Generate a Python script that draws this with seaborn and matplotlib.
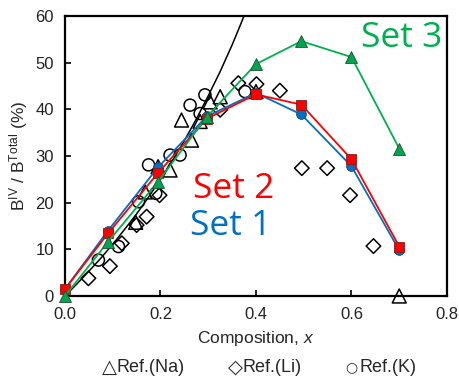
import numpy as np
import pandas as pd
import seaborn as sns
import matplotlib.pyplot as plt

# --- data ---
comp = [0.0, 0.09, 0.195, 0.297, 0.4, 0.495, 0.6, 0.7]
set1 = [1.5, 14.0, 27.6, 38.5, 43.5, 38.9, 27.8, 9.8]
set2 = [1.5, 13.4, 26.4, 38.0, 43.2, 41.0, 29.3, 10.6]
set3 = [0.0, 11.6, 24.5, 38.4, 49.7, 54.6, 51.2, 31.6]

# black reference curve
curve_x = [0.0, 0.025, 0.05, 0.075, 0.1, 0.125, 0.15, 0.175, 0.2, 0.225, 0.25,
           0.275, 0.3, 0.325, 0.35, 0.365, 0.38]
curve_y = [0.0, 2.6, 5.3, 8.1, 11.1, 14.3, 17.6, 21.2, 25.0, 29.0, 33.3,
           37.9, 42.9, 48.1, 53.8, 57.5, 61.3]

na_x = [0.148, 0.168, 0.195, 0.22, 0.244, 0.265, 0.283, 0.304, 0.325, 0.4, 0.7]
na_y = [15.8, 22.3, 27.7, 27.0, 37.7, 33.4, 37.4, 41.6, 42.7, 43.8, 0.0]

li_x = [0.049, 0.094, 0.119, 0.150, 0.171, 0.198, 0.325, 0.363, 0.401, 0.45,
        0.496, 0.549, 0.597, 0.646]
li_y = [3.8, 6.4, 11.3, 15.2, 17.0, 21.6, 39.9, 45.6, 45.4, 44.0,
        27.4, 27.4, 21.6, 10.7]

k_x = [0.07, 0.112, 0.154, 0.175, 0.19, 0.22, 0.241, 0.262, 0.283, 0.293, 0.377]
k_y = [7.7, 10.6, 20.2, 28.1, 22.0, 30.2, 30.2, 40.9, 39.1, 43.1, 43.8]

BLUE, RED, GREEN = "#0070C0", "#FF0000", "#00B050"

sns.set_style("ticks")
plt.rcParams['font.family'] = ['Liberation Sans', 'DejaVu Sans']
plt.rcParams['mathtext.fontset'] = 'custom'
plt.rcParams['mathtext.rm'] = 'Liberation Sans'
plt.rcParams['mathtext.it'] = 'Liberation Sans:italic'

fig = plt.figure(figsize=(4.6, 3.78), dpi=100)
ax = fig.add_axes([0.1413, 0.2169, 0.8304, 0.7408])

# open reference markers
sns.scatterplot(x=li_x, y=li_y, marker='D', s=55, facecolor='none',
                edgecolor='black', linewidth=1.1, ax=ax, zorder=2, clip_on=False)
sns.scatterplot(x=k_x, y=k_y, marker='o', s=75, facecolor='none',
                edgecolor='black', linewidth=1.1, ax=ax, zorder=2, clip_on=False)
sns.scatterplot(x=na_x, y=na_y, marker='^', s=100, facecolor='none',
                edgecolor='black', linewidth=1.1, ax=ax, zorder=2, clip_on=False)

# reference curve
sns.lineplot(x=curve_x, y=curve_y, color='black', linewidth=1.1, sort=False,
             ax=ax, zorder=3)

# measured sets
sns.lineplot(x=comp, y=set1, color=BLUE, linewidth=1.3, marker='o', markersize=7,
             markerfacecolor=BLUE, markeredgecolor='#1f3f6f', markeredgewidth=0.6,
             sort=False, ax=ax, zorder=4, clip_on=False)
sns.lineplot(x=comp, y=set2, color=RED, linewidth=1.3, marker='s', markersize=7,
             markerfacecolor=RED, markeredgecolor='#7f1f1f', markeredgewidth=0.6,
             sort=False, ax=ax, zorder=5, clip_on=False)
sns.lineplot(x=comp, y=set3, color=GREEN, linewidth=1.3, marker='^', markersize=9,
             markerfacecolor='#00A550', markeredgecolor='#1f4f2f', markeredgewidth=0.6,
             sort=False, ax=ax, zorder=6, clip_on=False)

ax.set_xlim(0, 0.8)
ax.set_ylim(0, 60)
ax.set_xticks([0.0, 0.2, 0.4, 0.6, 0.8])
ax.set_xticklabels(['0.0', '0.2', '0.4', '0.6', '0.8'])
ax.set_yticks(range(0, 61, 10))
ax.tick_params(direction='in', length=4, width=1.2, labelsize=12, pad=8,
               colors='black', labelcolor='#222222')
for sp in ax.spines.values():
    sp.set_visible(True)
    sp.set_linewidth(1.6)
    sp.set_color('black')

ax.set_xlabel(r"Composition, $x$", fontsize=12.5, labelpad=5)
ax.set_ylabel(r"B$^{\mathrm{IV}}$ / B$^{\mathrm{Total}}$ (%)", fontsize=12.5,
              labelpad=4)

# set labels
lab_font = ['Open Sans', 'DejaVu Sans']
ax.text(0.705, 53.4, "Set 3", color=GREEN, fontsize=25.5, ha='center',
        va='baseline', family=lab_font)
ax.text(0.353, 21.0, "Set 2", color=RED, fontsize=25.5, ha='center',
        va='baseline', family=lab_font)
ax.text(0.346, 13.1, "Set 1", color=BLUE, fontsize=25.5, ha='center',
        va='baseline', family=lab_font)

# marker legend as text
leg_y = 1 - 367 / 378
fig.text(102 / 460, leg_y, "△", fontsize=14, va='center', family=['DejaVu Sans'])
fig.text(117 / 460, leg_y, "Ref.(Na)", fontsize=13, va='center')
fig.text(228 / 460, leg_y, "◇", fontsize=14, va='center', family=['DejaVu Sans'])
fig.text(243 / 460, leg_y, "Ref.(Li)", fontsize=13, va='center')
fig.text(345 / 460, leg_y, "○", fontsize=10, va='center', family=['DejaVu Sans'])
fig.text(360 / 460, leg_y, "Ref.(K)", fontsize=13, va='center')

fig.savefig("out.png", dpi=100)
